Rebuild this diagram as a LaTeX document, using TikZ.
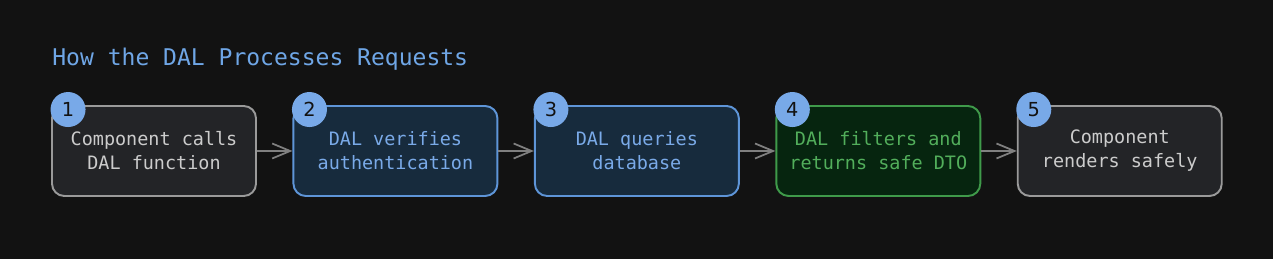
\documentclass[tikz,border=0pt]{standalone}
\usepackage{fontspec}
\setmonofont{DejaVu Sans Mono}
\setsansfont{DejaVu Sans}
\usepackage{xcolor}
\usetikzlibrary{arrows.meta,positioning}
\definecolor{bgDark}{HTML}{121212}
\definecolor{titleBlue}{HTML}{6FA6E6}
\definecolor{greyFill}{HTML}{232427}
\definecolor{greyLine}{HTML}{9A9A9A}
\definecolor{greyText}{HTML}{CCCCCC}
\definecolor{blueFill}{HTML}{172B3D}
\definecolor{blueLine}{HTML}{5E95D8}
\definecolor{blueText}{HTML}{7AAAE8}
\definecolor{greenFill}{HTML}{06250F}
\definecolor{greenLine}{HTML}{3F9A4A}
\definecolor{greenText}{HTML}{52AE5B}
\definecolor{badgeBlue}{HTML}{78A9E8}
\definecolor{arrowGrey}{HTML}{808080}

\begin{document}
\begin{tikzpicture}[
  stepbox/.style={draw, rounded corners=7pt, line width=1.1pt,
    minimum width=4.08cm, minimum height=1.8cm, align=center,
    font=\ttfamily\fontsize{10.5}{13.7}\selectfont},
  greybox/.style={stepbox, draw=greyLine, fill=greyFill, text=greyText},
  bluebox/.style={stepbox, draw=blueLine, fill=blueFill, text=blueText},
  greenbox/.style={stepbox, draw=greenLine, fill=greenFill, text=greenText},
  badge/.style={circle, fill=badgeBlue, minimum size=0.7cm, inner sep=0pt,
    text=bgDark, font=\sffamily\fontsize{11}{12}\selectfont},
  flow/.style={draw=arrowGrey, line width=1pt,
    -{Straight Barb[length=0.36cm, width=0.3cm]}}]
% canvas: 1273 x 259 px at 0.02cm per px
\fill[bgDark] (0,0) rectangle (25.46,5.18);
\useasboundingbox (0,0) rectangle (25.46,5.18);
% ---------------- title ----------------
\node[anchor=base west, inner sep=0pt, text=titleBlue,
  font=\ttfamily\fontsize{13.1}{15}\selectfont] (title) at (1.04,3.86)
  {How the DAL Processes Requests};
% ---------------- the five steps ----------------
\node[greybox] (compcall) at (3.08,2.16) {Component calls\\DAL function};
\node[bluebox, right=0.71cm of compcall] (verify) {DAL verifies\\authentication};
\node[bluebox, right=0.71cm of verify] (query) {DAL queries\\database};
\node[greenbox, right=0.71cm of query] (filter) {DAL filters and\\returns safe DTO};
\node[greybox, right=0.71cm of filter] (render) {Component\\renders safely};
% numbered badges on the top-left corners
\node[badge] (badgeA) at ([shift={(0.34,-0.09)}]compcall.north west) {1};
\node[badge] (badgeB) at ([shift={(0.34,-0.09)}]verify.north west) {2};
\node[badge] (badgeC) at ([shift={(0.34,-0.09)}]query.north west) {3};
\node[badge] (badgeD) at ([shift={(0.34,-0.09)}]filter.north west) {4};
\node[badge] (badgeE) at ([shift={(0.34,-0.09)}]render.north west) {5};
% ---------------- connectors ----------------
\draw[flow] (compcall) -- (verify);
\draw[flow] (verify) -- (query);
\draw[flow] (query) -- (filter);
\draw[flow] (filter) -- (render);
\end{tikzpicture}
\end{document}
